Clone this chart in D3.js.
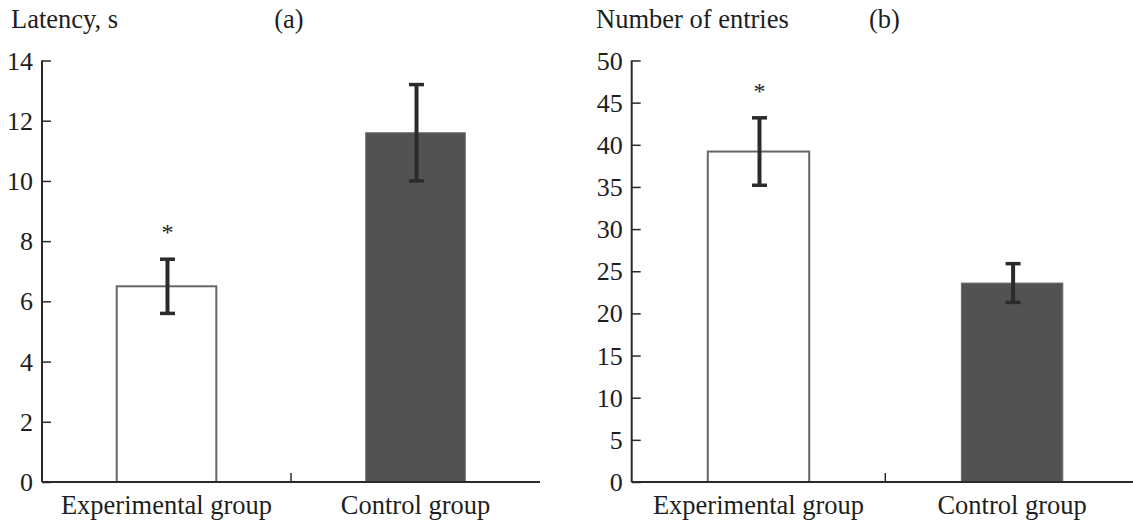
<!DOCTYPE html>
<html>
<head>
<meta charset="utf-8">
<script src="https://cdn.jsdelivr.net/npm/d3@7"></script>
<style>
  html, body { margin: 0; padding: 0; background: #fff; }
  svg { display: block; }
  text { font-family: "Liberation Serif", "Times New Roman", serif; fill: #1e1e1e; }
</style>
</head>
<body>
<svg id="chart" width="1133" height="521"></svg>
<script>
// Groups on the x axis
const groups = ["Experimental group", "Control group"];

// Panel (a): latency, seconds (mean and standard error)
const latencyMean = [6.5, 11.6];
const latencyErr = [0.9, 1.6];
const latencyTicks = [0, 2, 4, 6, 8, 10, 12, 14];

// Panel (b): number of entries (mean and standard error)
const entriesMean = [39.2, 23.6];
const entriesErr = [4.0, 2.3];
const entriesTicks = [0, 5, 10, 15, 20, 25, 30, 35, 40, 45, 50];

// Significance marks per group
const signif = ["*", ""];

const svg = d3.select("#chart");
const fills = ["#ffffff", "#525252"];
const strokes = ["#666666", "#6e6e6e"];
const labelSize = 26.5;

function panel(opts) {
  const g = svg.append("g");
  const x = d3.scaleBand().domain(groups)
    .range([opts.x0, opts.x0 + 2 * opts.band])
    .paddingInner(0).paddingOuter(0);
  const y = d3.scaleLinear().domain([0, opts.max]).range([482, 60.5]);
  const barW = 0.4 * opts.band;

  // y axis with inward ticks
  const yAxis = d3.axisRight(y).tickValues(opts.ticks).tickSize(9).tickFormat("");
  const ya = g.append("g").attr("transform", `translate(${opts.x0},0)`).call(yAxis);
  ya.select(".domain").attr("stroke", "#2a2a2a").attr("stroke-width", 2)
    .attr("d", `M0,${y(opts.max)}V${y(0)}`);
  ya.selectAll(".tick line").attr("stroke", "#2a2a2a").attr("stroke-width", 1.5);

  g.selectAll(".ylab").data(opts.ticks).join("text")
    .attr("class", "ylab")
    .attr("x", opts.x0 - 9)
    .attr("y", d => y(d) + 9)
    .attr("text-anchor", "end")
    .attr("font-size", 26)
    .text(d => d);

  // bars
  g.selectAll(".bar").data(opts.mean).join("rect")
    .attr("class", "bar")
    .attr("x", (d, i) => x(groups[i]) + x.bandwidth() / 2 - barW / 2)
    .attr("y", d => y(d))
    .attr("width", barW)
    .attr("height", d => y(0) - y(d))
    .attr("fill", (d, i) => fills[i])
    .attr("stroke", (d, i) => strokes[i])
    .attr("stroke-width", (d, i) => i === 0 ? 2 : 1);

  // x axis with the group divider tick
  g.append("line")
    .attr("x1", opts.x0).attr("x2", opts.x0 + 2 * opts.band)
    .attr("y1", y(0)).attr("y2", y(0))
    .attr("stroke", "#2a2a2a").attr("stroke-width", 2);
  g.append("line")
    .attr("x1", x(groups[1])).attr("x2", x(groups[1]))
    .attr("y1", y(0)).attr("y2", y(0) - 9)
    .attr("stroke", "#2a2a2a").attr("stroke-width", 1.5);

  g.selectAll(".xlab").data(groups).join("text")
    .attr("class", "xlab")
    .attr("x", d => x(d) + x.bandwidth() / 2)
    .attr("y", 514)
    .attr("text-anchor", "middle")
    .attr("font-size", labelSize)
    .text(d => d);

  // error bars
  const eb = g.selectAll(".err").data(opts.mean).join("g").attr("class", "err");
  const cx = (i) => x(groups[i]) + x.bandwidth() / 2 + 1;
  eb.append("line")
    .attr("x1", (d, i) => cx(i)).attr("x2", (d, i) => cx(i))
    .attr("y1", (d, i) => y(d + opts.err[i])).attr("y2", (d, i) => y(d - opts.err[i]))
    .attr("stroke", "#2b2b2b").attr("stroke-width", 4);
  [1, -1].forEach(s => {
    eb.append("line")
      .attr("x1", (d, i) => cx(i) - 7.5).attr("x2", (d, i) => cx(i) + 7.5)
      .attr("y1", (d, i) => y(d + s * opts.err[i])).attr("y2", (d, i) => y(d + s * opts.err[i]))
      .attr("stroke", "#2b2b2b").attr("stroke-width", 3.5);
  });

  // significance marks
  g.selectAll(".sig").data(opts.mean).join("text")
    .attr("class", "sig")
    .attr("x", (d, i) => cx(i))
    .attr("y", (d, i) => y(d + opts.err[i]) - 19)
    .attr("text-anchor", "middle")
    .attr("font-size", 24)
    .text((d, i) => signif[i]);

  // titles
  g.append("text").attr("x", opts.titleX).attr("y", 28)
    .attr("font-size", labelSize).text(opts.title);
  g.append("text").attr("x", opts.tagX).attr("y", 28)
    .attr("text-anchor", "middle").attr("font-size", labelSize).text(opts.tag);
}

panel({ x0: 42, band: 249, max: 14, ticks: latencyTicks,
        mean: latencyMean, err: latencyErr,
        title: "Latency, s", titleX: 11, tag: "(a)", tagX: 289 });
panel({ x0: 631.7, band: 253.6, max: 50, ticks: entriesTicks,
        mean: entriesMean, err: entriesErr,
        title: "Number of entries", titleX: 596, tag: "(b)", tagX: 884.5 });
</script>
</body>
</html>
